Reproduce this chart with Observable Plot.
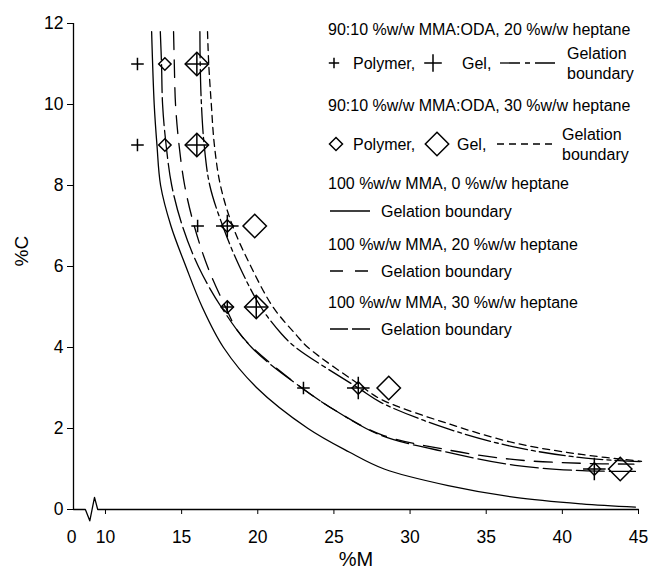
<!DOCTYPE html>
<html><head><meta charset="utf-8">
<script src="https://cdn.jsdelivr.net/npm/d3@7"></script>
<script src="https://cdn.jsdelivr.net/npm/@observablehq/plot@0.6"></script>
<style>
body{margin:0;background:#fff;}
#wrap{position:relative;width:649px;height:575px;}
#wrap svg{position:absolute;left:0;top:0;}
</style></head><body><div id="wrap"></div>
<script>
const FONT = '"Liberation Sans", Arial, Helvetica, sans-serif';

// axis ticks (the x axis is broken: its origin "0" sits just left of 10)
const xAxisOrigin = 7.9;
const xOriginLabel = "0";
const xTicks = [10, 15, 20, 25, 30, 35, 40, 45];
const yTicks = [0, 2, 4, 6, 8, 10, 12];
const xLabel = "%M";
const yLabel = "%C";

// axis break glyph (data units)
const axisBreakM = [7.9, 8.68, 8.97, 9.28, 9.49, 45];
const axisBreakC = [0, 0, -0.28, 0.3, 0, 0];

// experimental points: 90:10 MMA:ODA, 20 %w/w heptane
const polymer20M = [12.1, 12.1, 16.05, 18.0, 23.0];
const polymer20C = [11, 9, 7, 5, 3];
const gel20M = [16.0, 16.0, 18.0, 19.9, 26.6, 42.1];
const gel20C = [11, 9, 7, 5, 3, 1];
// experimental points: 90:10 MMA:ODA, 30 %w/w heptane
const polymer30M = [13.9, 13.9, 18.0, 18.0, 26.6, 42.1];
const polymer30C = [11, 9, 7, 5, 3, 1];
const gel30M = [16.0, 16.0, 19.8, 19.9, 28.6, 43.8];
const gel30C = [11, 9, 7, 5, 3, 1];

// gelation boundaries
const mma0M = [13.03, 13.2, 13.38, 13.62, 14.3, 15.28, 16.35, 17.75, 19.95, 23.3, 26.0, 28.3, 32.5, 36.9, 41.25, 44.8];
const mma0C = [11.8, 10, 9, 8, 7, 6, 5, 4, 3, 2, 1.42, 1.0, 0.59, 0.30, 0.14, 0.06];
const mma30M = [13.6, 13.68, 13.75, 13.98, 14.35, 15.05, 16.1, 17.6, 19.6, 22.9, 25.2, 28.1, 32.5, 36.9, 41.3, 44.8];
const mma30C = [11.8, 11, 10, 9, 8, 7, 6, 5, 4, 3, 2.42, 1.83, 1.41, 1.09, 0.96, 0.94];
const mma20M = [14.47, 14.52, 14.6, 14.83, 15.2, 15.83, 16.7, 17.88, 18.66, 19.65, 22.9, 25.2, 28.1, 32.5, 36.9, 41.3, 44.7];
const mma20C = [11.8, 11, 10, 9, 8, 7, 6, 5, 4.42, 4.0, 3.0, 2.42, 1.85, 1.47, 1.23, 1.14, 1.12];
const oda20M = [16.2, 16.22, 16.3, 16.48, 16.85, 17.7, 18.8, 20.2, 21.55, 22.5, 26.6, 28.1, 32.5, 36.9, 41.25, 45.1];
const oda20C = [11.8, 11, 10, 9, 8, 7, 6, 5, 4.34, 4.0, 3.0, 2.64, 1.99, 1.54, 1.28, 1.18];
const oda30M = [16.7, 16.78, 16.95, 17.15, 17.55, 18.35, 19.55, 21.0, 22.55, 23.3, 26.6, 28.1, 32.5, 36.9, 41.25, 45.2];
const oda30C = [11.8, 11, 10, 9, 8, 7, 6, 5, 4.3, 4.0, 3.1, 2.72, 2.12, 1.64, 1.36, 1.19];

// legend texts
const legendTitles = [
  "90:10 %w/w MMA:ODA, 20 %w/w heptane",
  "90:10 %w/w MMA:ODA, 30 %w/w heptane",
  "100 %w/w MMA, 0 %w/w heptane",
  "100 %w/w MMA, 20 %w/w heptane",
  "100 %w/w MMA, 30 %w/w heptane"
];

const pts = (M, C) => M.map((m, i) => ({m, c: C[i]}));

const thinPlus = {draw(ctx, size) {const r = Math.sqrt(size / Math.PI); ctx.moveTo(-r, 0); ctx.lineTo(r, 0); ctx.moveTo(0, -r); ctx.lineTo(0, r);}};
const openDiamond = {draw(ctx, size) {const r = Math.sqrt(size / Math.PI); ctx.moveTo(0, -r); ctx.lineTo(r, 0); ctx.lineTo(0, r); ctx.lineTo(-r, 0); ctx.closePath();}};

const lineOpts = (dash) => ({x: "m", y: "c", stroke: "black", strokeWidth: 1.3, curve: "catmull-rom", strokeDasharray: dash});
const dotOpts = (symbol, r) => ({x: "m", y: "c", symbol, r, stroke: "black", fill: "none", strokeWidth: 1.5});

const DASH = {mma20: "18,10", mma30: "28,5", oda20: "26,4,4,4", oda30: "7,5"};

const chart = Plot.plot({
  width: 649, height: 575,
  marginLeft: 73, marginRight: 11, marginTop: 23, marginBottom: 66,
  style: {fontFamily: FONT, fontSize: "17.5px", color: "#000", background: "white", overflow: "visible"},
  x: {domain: [xAxisOrigin, 45], ticks: xTicks, tickSize: 5, tickPadding: 16, label: null, tickFormat: d => String(d)},
  y: {domain: [0, 12], ticks: yTicks, tickSize: 6, tickPadding: 4, label: null, tickFormat: d => String(d)},
  marks: [
    Plot.line(pts(axisBreakM, axisBreakC), {x: "m", y: "c", stroke: "black", strokeWidth: 1.3}),
    Plot.ruleX([xAxisOrigin], {stroke: "black", strokeWidth: 1.3}),
    Plot.text([xAxisOrigin], {x: d => d, text: () => xOriginLabel, frameAnchor: "bottom", dy: 27.5, dx: -2, fontSize: 17.5, lineAnchor: "middle", fill: "black"}),
    Plot.text([xLabel], {text: d => d, frameAnchor: "bottom", dy: 50, fontSize: 20, lineAnchor: "middle", fill: "black"}),
    Plot.text([yLabel], {text: d => d, frameAnchor: "left", dx: -52, rotate: -90, fontSize: 19, lineAnchor: "middle", fill: "black"}),
    Plot.line(pts(mma0M, mma0C), lineOpts(null)),
    Plot.line(pts(mma30M, mma30C), lineOpts(DASH.mma30)),
    Plot.line(pts(mma20M, mma20C), lineOpts(DASH.mma20)),
    Plot.line(pts(oda20M, oda20C), lineOpts(DASH.oda20)),
    Plot.line(pts(oda30M, oda30C), lineOpts(DASH.oda30)),
    Plot.dot(pts(polymer20M, polymer20C), dotOpts(thinPlus, 6.3)),
    Plot.dot(pts(gel20M, gel20C), dotOpts(thinPlus, 11.3)),
    Plot.dot(pts(polymer30M, polymer30C), dotOpts(openDiamond, 6.2)),
    Plot.dot(pts(gel30M, gel30C), dotOpts(openDiamond, 11.7))
  ]
});
const wrap = document.getElementById("wrap");
wrap.appendChild(chart);

// legend overlay
const leg = d3.create("svg").attr("width", 649).attr("height", 575)
  .attr("font-family", FONT).attr("font-size", 16).attr("fill", "black")
  .style("pointer-events", "none");
function txt(x, y, s) {leg.append("text").attr("x", x).attr("y", y).attr("dy", "0.35em").text(s);}
function seg(x1, x2, y, dash) {
  leg.append("line").attr("x1", x1).attr("x2", x2).attr("y1", y).attr("y2", y)
    .attr("stroke", "black").attr("stroke-width", 1.3).attr("stroke-dasharray", dash);
}
function sym(x, y, symbol, r) {
  leg.append("path").attr("transform", `translate(${x},${y})`)
    .attr("d", d3.symbol(symbol, r * r * Math.PI)())
    .attr("fill", "none").attr("stroke", "black").attr("stroke-width", 1.5);
}
txt(328, 29, legendTitles[0]);
sym(334, 63, thinPlus, 5.2);
txt(353, 63, "Polymer,");
sym(433, 63, thinPlus, 8.8);
txt(462, 63, "Gel,");
seg(500, 555, 63, "20,5,5,5");
txt(567, 53, "Gelation");
txt(567, 73, "boundary");

txt(328, 105, legendTitles[1]);
sym(336, 144, openDiamond, 6.5);
txt(353, 144, "Polymer,");
sym(437, 144, openDiamond, 11.7);
txt(457, 144, "Gel,");
seg(497, 553, 144, "7,5");
txt(562, 134, "Gelation");
txt(562, 154, "boundary");

txt(328, 183, legendTitles[2]);
seg(330, 370, 211, null);
txt(381, 211, "Gelation boundary");

txt(328, 244, legendTitles[3]);
seg(330, 370, 271, "13,12");
txt(381, 271, "Gelation boundary");

txt(328, 302, legendTitles[4]);
seg(330, 370, 329, "18,4");
txt(381, 329, "Gelation boundary");

wrap.appendChild(leg.node());
</script></body></html>
